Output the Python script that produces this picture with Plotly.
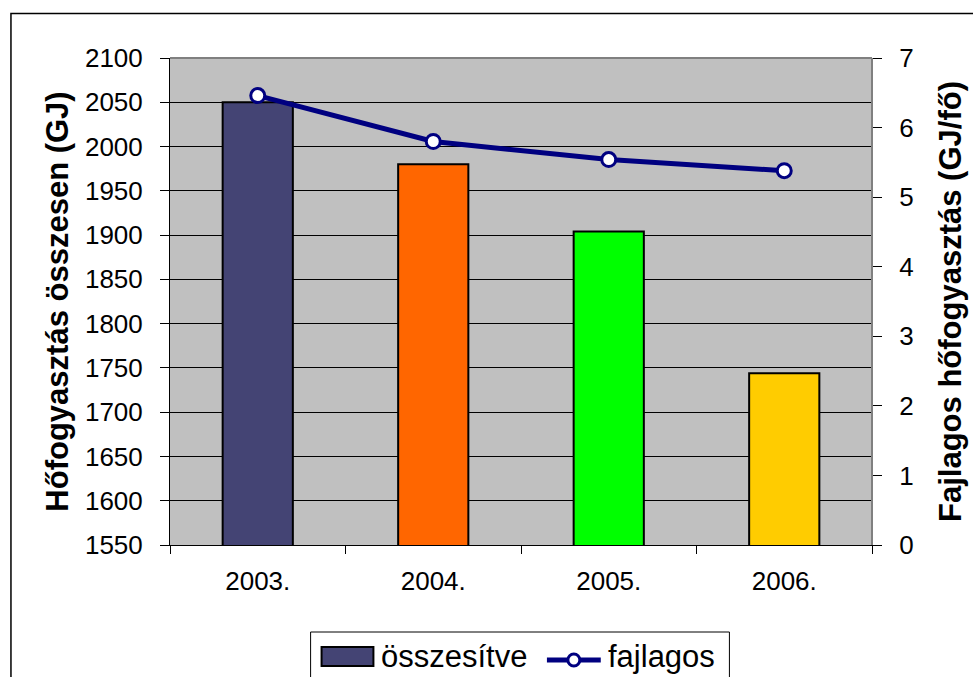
import plotly.graph_objects as go

years = ["2003.", "2004.", "2005.", "2006."]
osszesitve = [2050, 1980, 1904, 1744]
fajlagos = [6.46, 5.80, 5.54, 5.38]
bar_colors = ["#444474", "#FF6600", "#00FF00", "#FFCC00"]
left_ticks = list(range(1550, 2101, 50))
right_ticks = list(range(0, 8))
series_names = ["összesítve", "fajlagos"]

FONT = "Liberation Sans, Arial, sans-serif"
NAVY = "#000080"

fig = go.Figure()
fig.add_trace(go.Bar(
    x=years, y=osszesitve, name=series_names[0],
    marker=dict(color=bar_colors, line=dict(color="black", width=2)),
    width=0.4, yaxis="y", showlegend=False,
))
fig.add_trace(go.Scatter(
    x=years, y=fajlagos, name=series_names[1], yaxis="y2",
    mode="lines+markers", showlegend=False,
    line=dict(color=NAVY, width=5),
    marker=dict(symbol="circle", size=14, color="white",
                line=dict(color=NAVY, width=3)),
))

W, H = 973, 677
L, R, T, B = 170, 874, 58, 545
def px(x):
    return (x - L) / (R - L)
def py(y):
    return (B - y) / (B - T)

# manual legend (decoration)
leg_y = 656
shapes = [
    dict(type="line", xref="paper", yref="paper", x0=0, x1=1, y0=1, y1=1,
         line=dict(color="#808080", width=2), layer="above"),
    dict(type="line", xref="paper", yref="paper", x0=1, x1=1, y0=0, y1=1,
         line=dict(color="#808080", width=2), layer="above"),
    dict(type="rect", xref="paper", yref="paper",
         x0=px(10.5), x1=px(990), y0=py(700), y1=py(13.5),
         line=dict(color="black", width=1.5), fillcolor="rgba(0,0,0,0)", layer="above"),
    dict(type="rect", xref="paper", yref="paper",
         x0=px(311), x1=px(731), y0=py(700), y1=py(632),
         line=dict(color="black", width=1), fillcolor="white", layer="above"),
    dict(type="rect", xref="paper", yref="paper",
         x0=px(322), x1=px(374), y0=py(666), y1=py(647),
         line=dict(color="black", width=2), fillcolor=bar_colors[0], layer="above"),
    dict(type="line", xref="paper", yref="paper",
         x0=px(548), x1=px(602), y0=py(leg_y + 4), y1=py(leg_y + 4),
         line=dict(color=NAVY, width=5), layer="above"),
    dict(type="circle", xref="paper", yref="paper",
         x0=px(569), x1=px(581), y0=py(leg_y + 10), y1=py(leg_y - 2),
         line=dict(color=NAVY, width=3), fillcolor="white", layer="above"),
]
annotations = [
    dict(text=series_names[0], xref="paper", yref="paper", x=px(380), y=py(leg_y),
         xanchor="left", yanchor="middle", showarrow=False, font=dict(size=31)),
    dict(text=series_names[1], xref="paper", yref="paper", x=px(607), y=py(leg_y),
         xanchor="left", yanchor="middle", showarrow=False, font=dict(size=31)),
]

fig.update_layout(
    width=W, height=H,
    margin=dict(l=L, r=W - R, t=T, b=H - B),
    paper_bgcolor="white",
    plot_bgcolor="#C0C0C0",
    font=dict(family=FONT, size=26, color="black"),
    showlegend=False,
    xaxis=dict(
        showline=True, linecolor="black", linewidth=1,
        ticks="outside", tickson="boundaries", ticklen=8, tickcolor="black",
        showgrid=False, ticklabelstandoff=13,
        tickfont=dict(size=26),
    ),
    yaxis=dict(
        range=[1550, 2100], tickvals=left_ticks,
        showline=True, linecolor="black", linewidth=1,
        ticks="outside", ticklen=9, tickcolor="black",
        showgrid=True, gridcolor="black", gridwidth=1,
        zeroline=False, ticklabelstandoff=12,
        tickfont=dict(size=26),
        title=dict(text="<b>Hőfogyasztás összesen (GJ)</b>", font=dict(size=31), standoff=7),
    ),
    yaxis2=dict(
        range=[0, 7], tickvals=right_ticks, overlaying="y", side="right",
        showline=True, linecolor="#808080", linewidth=1,
        ticks="outside", ticklen=9, tickcolor="black",
        showgrid=False, zeroline=False, ticklabelstandoff=12,
        tickfont=dict(size=26),
        title=dict(text="<b>Fajlagos hőfogyasztás (GJ/fő)</b>", font=dict(size=31), standoff=26),
    ),
    shapes=shapes,
    annotations=annotations,
)

fig.write_html("out.html", config={"displayModeBar": False},
               post_script="document.body.style.margin='0';document.body.style.overflow='hidden';")
